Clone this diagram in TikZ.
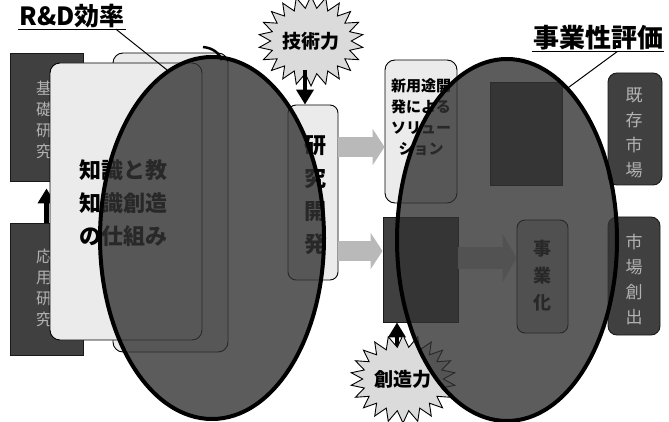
\documentclass[tikz,border=0pt]{standalone}
\usepackage{fontspec}
\newfontfamily\jp{Noto Sans CJK JP}
\usetikzlibrary{shapes.symbols,shapes.geometric,arrows.meta,calc}
\newcommand{\myfs}[2]{\fontsize{#1}{#2}\selectfont}
\begin{document}
\begin{tikzpicture}[x=1pt,y=-1pt,
  box/.style={inner sep=0pt, line width=0.9pt},
  lightbox/.style={box, draw=black, fill=gray!16, rounded corners=10pt},
  darkbox/.style={box, draw=black!90, fill=black!75},
  vtext/.style={font=\jp\bfseries\myfs{22}{33}, align=center, inner sep=0pt},
  wtext/.style={vtext, text=white!70!black, font=\jp\myfs{17}{25}},
  blackarrow/.style={line width=4.5pt, -{Triangle[width=17pt,length=15pt]}},
  grayarrow/.style={line width=20pt, draw=gray!55, -{Triangle[width=36pt,length=12pt]}},
  burst/.style={starburst, starburst points=22, starburst point height=12pt, random starburst=0, draw=black, line width=0.9pt, fill=gray!28, inner sep=0pt, font=\jp\bfseries\myfs{19}{19}},
  oval/.style={ellipse, draw=black, line width=4pt, fill=black!80, fill opacity=0.8, inner sep=0pt},
  title/.style={font=\jp\bfseries\myfs{25}{25}, inner sep=1pt},
  leader/.style={line width=1pt}]
\useasboundingbox (0,0) rectangle (669,422);
% left dark boxes
\node[darkbox, minimum width=73pt, minimum height=128pt] (dk1) at (46.5,117) {};
\node[wtext, text=gray!60, font=\jp\myfs{16}{21}] (dk1t) at (44,120) {基\\礎\\研\\究};
\node[darkbox, minimum width=73pt, minimum height=132pt] (dk2) at (46.5,289) {};
\node[wtext, text=gray!60, font=\jp\myfs{16}{21}] (dk2t) at (44,288) {応\\用\\研\\究};
\draw[blackarrow, shorten >=7pt] (dk2.north) -- (dk1.south);
% light boxes
\node[lightbox, minimum width=115pt, minimum height=299pt] (bk) at (170.5,202.5) {};
\node[lightbox, minimum width=152pt, minimum height=277pt] (fr) at (126,201.5) {};
\node[vtext] (frt) at (123,203) {知識と教\\知識創造\\の仕組み};
\node[lightbox, rounded corners=8pt, minimum width=50pt, minimum height=175pt] (kk) at (313,192.5) {};
\node[vtext] (kkt) at (315,195) {研\\究\\開\\発};
% tech star
\node[burst, minimum width=100pt, minimum height=90pt] (st1) at (311,41) {技術力};
\coordinate (a1) at (305,70);
\draw[blackarrow] (a1) -- (a1 |- kk.north);
% right side boxes
\node[lightbox, minimum width=72pt, minimum height=143pt] (nb) at (421,131.5) {};
\node[vtext, font=\jp\bfseries\myfs{15}{21}] (nbt) at (421,117) {新用途開\\発による\\ソリュー\\ション};
\node[darkbox, minimum width=75pt, minimum height=105pt] (dl) at (420.5,269.5) {};
\coordinate (g1) at (338,147);
\draw[grayarrow] (g1) -- (g1 -| nb.west);
\coordinate (g2) at (338,251);
\draw[grayarrow] (g2) -- (g2 -| dl.west);
\node[darkbox, minimum width=72pt, minimum height=103pt] (dr) at (526,133.5) {};
\node[lightbox, rounded corners=8pt, fill=gray!45, minimum width=51pt, minimum height=113pt] (jg) at (542.5,276.5) {};
\node[vtext, font=\jp\bfseries\myfs{18}{27}] (jgt) at (542,276) {事\\業\\化};
\coordinate (g3) at (458,258);
\draw[grayarrow, draw=gray!35, line width=22pt, -{Triangle[width=48pt,length=14pt]}] (g3) -- (g3 -| jg.west);
\node[darkbox, rounded corners=9pt, minimum width=54pt, minimum height=112pt] (km) at (635,129) {};
\node[wtext] (kmt) at (634,133) {既\\存\\市\\場};
\node[darkbox, rounded corners=9pt, minimum width=52pt, minimum height=118pt] (sc) at (634,276) {};
\node[wtext] (sct) at (634,279) {市\\場\\創\\出};
% creativity star
\coordinate (a2) at (397,352);
\draw[blackarrow] (a2) -- (a2 |- dl.south);
\node[burst, minimum width=100pt, minimum height=88pt] (st2) at (403,379) {創造力};
% ellipses
\node[oval, minimum width=224pt, minimum height=362pt] (eL) at (212,238) {};
\node[oval, minimum width=220pt, minimum height=362pt] (eR) at (507,240) {};
% titles
\node[title] (rd) at (72,16) {R\&D効率};
\draw[leader] (rd.south west) -- (rd.south east);
\draw[leader] ([xshift=-10pt]rd.south east) -- (eL.105);
\node[title, font=\jp\bfseries\myfs{26}{26}] (jh) at (598,38) {事業性評価};
\draw[leader] (jh.south west) -- (jh.south east);
\draw[leader] ([xshift=-47pt]jh.south east) -- (eR.68);
% hook
\coordinate (h1) at (203,47);
\coordinate (h2) at (222,60);
\draw[line width=2.5pt] (h1) .. controls (213,48) and (219,53) .. (h2);
\end{tikzpicture}
\end{document}
